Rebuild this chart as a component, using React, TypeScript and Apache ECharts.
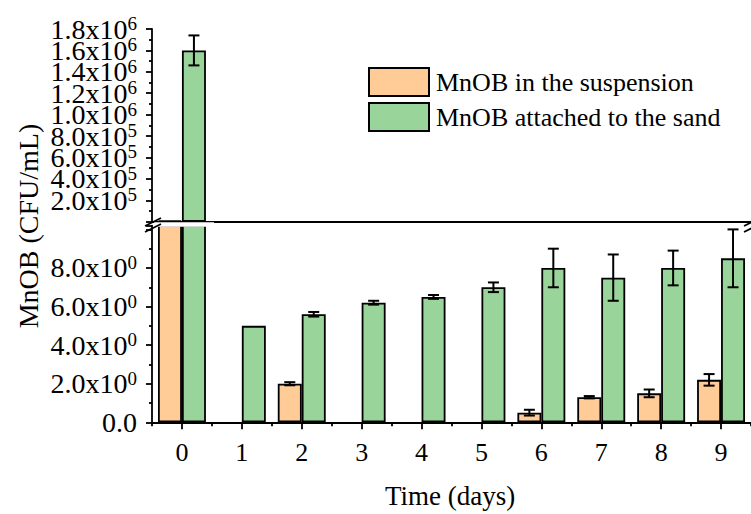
import React, { useEffect, useRef } from 'react';
import * as echarts from 'echarts';

const days = ['0', '1', '2', '3', '4', '5', '6', '7', '8', '9'];
const seriesNames = ['MnOB in the suspension', 'MnOB attached to the sand'];
const suspension = [1.2e4, 0, 2.0, 0, 0, 0, 0.5, 1.3, 1.5, 2.2];
const suspensionErr = [0, 0, 0.08, 0, 0, 0, 0.15, 0.06, 0.2, 0.3];
const attached = [1.6e6, 5.0, 5.6, 6.2, 6.5, 7.0, 8.0, 7.5, 8.0, 8.5];
const attachedErr = [1.4e5, 0, 0.12, 0.1, 0.1, 0.25, 1.0, 1.2, 0.9, 1.5];
const upperMax = 1.8e6;
const upperInterval = 2e5;
const lowerMax = 10.2;
const lowerInterval = 2;

const FONT = 'Liberation Serif';
const ORANGE = '#FFCB96';
const GREEN = '#99D49A';

const fmt = (v: number, hideAbove?: number) => {
  if (v === 0) return '{a|0.0}';
  if (hideAbove !== undefined && v > hideAbove) return '';
  const e = Math.floor(Math.log10(v) + 1e-9);
  const m = v / Math.pow(10, e);
  return `{a|${m.toFixed(1)}x10}{b|${e}}`;
};

const rich = {
  a: { fontSize: 28, fontFamily: FONT, color: '#000', lineHeight: 30 },
  b: { fontSize: 19, fontFamily: FONT, color: '#000', lineHeight: 19, verticalAlign: 'top' },
};

const renderErr = (params: any, api: any) => {
  const i = api.value(0);
  const v = api.value(1);
  const e = api.value(2);
  const side = api.value(3);
  const bw = api.size([1, 0])[0];
  const c = api.coord([i, v]);
  const x = c[0] + side * bw * 0.2;
  const yTop = api.coord([i, v + e])[1];
  const yBot = api.coord([i, v - e])[1];
  const h = 5.5;
  const style = { stroke: '#000', lineWidth: 2 };
  return {
    type: 'group',
    children: [
      { type: 'line', shape: { x1: x, y1: yTop, x2: x, y2: yBot }, style },
      { type: 'line', shape: { x1: x - h, y1: yTop, x2: x + h, y2: yTop }, style },
      { type: 'line', shape: { x1: x - h, y1: yBot, x2: x + h, y2: yBot }, style },
    ],
  };
};

export default function App() {
  const ref = useRef<HTMLDivElement>(null);
  useEffect(() => {
    if (!ref.current) return;
    const chart = echarts.init(ref.current, undefined, { renderer: 'svg' });
    const axisLine = { show: true, lineStyle: { color: '#000', width: 1.8 } };
    const tickStyle = { color: '#000', width: 1.8 };

    const upperSusp = suspension.map((v) => (v > lowerMax ? v : null));
    const upperAtt = attached.map((v) => (v > lowerMax ? v : null));
    const lowerSusp = suspension.map((v) => (v > 0 ? v : null));
    const lowerAtt = attached.map((v) => (v > 0 ? v : null));

    const errUpper: number[][] = [];
    const errLower: number[][] = [];
    suspension.forEach((v, i) => {
      const e = suspensionErr[i];
      if (e > 0) (v > lowerMax ? errUpper : errLower).push([i, v, e, -1]);
    });
    attached.forEach((v, i) => {
      const e = attachedErr[i];
      if (e > 0) (v > lowerMax ? errUpper : errLower).push([i, v, e, 1]);
    });

    const barItem = (color: string) => ({ color, borderColor: '#000', borderWidth: 1.8 });

    const option: any = {
      animation: false,
      backgroundColor: '#fff',
      textStyle: { fontFamily: FONT },
      legend: {
        orient: 'vertical',
        left: 363,
        top: 62,
        itemWidth: 60,
        itemHeight: 28,
        itemGap: 5,
        icon: 'rect',
        data: seriesNames,
        textStyle: { fontSize: 26, fontFamily: FONT, color: '#000', padding: [0, 0, 0, 2] },
      },
      grid: [
        { left: 152, width: 600, top: 29, height: 192.7 },
        { left: 152, width: 600, top: 422.3 - lowerMax * 19.29, height: lowerMax * 19.29 },
      ],
      xAxis: [
        {
          gridIndex: 0, type: 'category', data: days, position: 'top',
          axisLine, axisTick: { show: false }, axisLabel: { show: false },
        },
        {
          gridIndex: 1, type: 'category', data: days, position: 'bottom',
          axisLine,
          axisTick: { show: true, alignWithLabel: true, length: 7, interval: 0, lineStyle: tickStyle },
          axisLabel: { interval: 0, fontSize: 26, margin: 17, color: '#000', fontFamily: FONT },
        },
        {
          gridIndex: 1, type: 'category', data: days, position: 'bottom',
          axisLine: { show: false },
          axisTick: { show: true, length: 4, interval: 0, lineStyle: tickStyle },
          axisLabel: { show: false },
        },
      ],
      yAxis: [
        {
          gridIndex: 0, type: 'value', position: 'left', min: 0, max: upperMax, interval: upperInterval,
          axisLine,
          axisTick: { show: true, length: 6, lineStyle: tickStyle },
          minorTick: { show: true, splitNumber: 2, length: 3, lineStyle: tickStyle },
          splitLine: { show: false },
          axisLabel: {
            margin: 15, showMaxLabel: false, showMinLabel: false,
            formatter: (v: number) => (v === 0 || v >= upperMax ? '' : fmt(v)), rich,
          },
        },
        {
          gridIndex: 1, type: 'value', position: 'left', min: 0, max: lowerMax, interval: lowerInterval,
          axisLine,
          axisTick: { show: true, length: 6, lineStyle: tickStyle },
          minorTick: { show: true, splitNumber: 2, length: 3, lineStyle: tickStyle },
          splitLine: { show: false },
          axisLabel: { margin: 15, showMinLabel: true, formatter: (v: number) => fmt(v, 9), rich },
        },
        {
          gridIndex: 0, type: 'value', position: 'left', min: 0, max: upperMax, interval: upperInterval,
          axisLine: { show: false }, axisTick: { show: false }, splitLine: { show: false },
          axisLabel: {
            margin: 15, showMaxLabel: true, showMinLabel: false,
            formatter: (v: number) => (v >= upperMax ? fmt(v) : ''), rich,
          },
        },
      ],
      series: [
        { name: seriesNames[0], type: 'bar', xAxisIndex: 0, yAxisIndex: 0, data: upperSusp, barWidth: '40%', barGap: '0%', itemStyle: barItem(ORANGE) },
        { name: seriesNames[1], type: 'bar', xAxisIndex: 0, yAxisIndex: 0, data: upperAtt, barWidth: '40%', barGap: '0%', itemStyle: barItem(GREEN) },
        { name: seriesNames[0], type: 'bar', xAxisIndex: 1, yAxisIndex: 1, data: lowerSusp, barWidth: '40%', barGap: '0%', itemStyle: barItem(ORANGE), clip: true },
        { name: seriesNames[1], type: 'bar', xAxisIndex: 1, yAxisIndex: 1, data: lowerAtt, barWidth: '40%', barGap: '0%', itemStyle: barItem(GREEN), clip: true },
        { type: 'custom', xAxisIndex: 0, yAxisIndex: 0, data: errUpper, renderItem: renderErr, encode: { x: 0, y: 1 }, z: 5, silent: true },
        { type: 'custom', xAxisIndex: 1, yAxisIndex: 1, data: errLower, renderItem: renderErr, encode: { x: 0, y: 1 }, z: 5, silent: true },
      ],
      graphic: [
        { type: 'rect', shape: { x: 154, y: 222.2, width: 60, height: 4.6 }, style: { fill: '#fff' }, z: 100 },
        { type: 'line', shape: { x1: 145, y1: 226, x2: 161, y2: 218 }, style: { stroke: '#000', lineWidth: 1.8 }, z: 101 },
        { type: 'line', shape: { x1: 145, y1: 232, x2: 161, y2: 224 }, style: { stroke: '#000', lineWidth: 1.8 }, z: 101 },
        { type: 'line', shape: { x1: 744, y1: 226, x2: 760, y2: 218 }, style: { stroke: '#000', lineWidth: 1.8 }, z: 101 },
        { type: 'line', shape: { x1: 744, y1: 232, x2: 760, y2: 224 }, style: { stroke: '#000', lineWidth: 1.8 }, z: 101 },
        {
          type: 'text', x: 28, y: 226, rotation: Math.PI / 2, z: 101,
          style: { text: 'MnOB (CFU/mL)', fontSize: 28, fontFamily: FONT, fill: '#000', align: 'center', verticalAlign: 'middle' },
        },
        {
          type: 'text', x: 450, y: 496, z: 101,
          style: { text: 'Time (days)', fontSize: 27, fontFamily: FONT, fill: '#000', align: 'center', verticalAlign: 'middle' },
        },
      ],
    };
    chart.setOption(option);
    return () => chart.dispose();
  }, []);
  return <div ref={ref} style={{ position: 'fixed', left: 0, top: 0, width: 751, height: 514 }} />;
}
